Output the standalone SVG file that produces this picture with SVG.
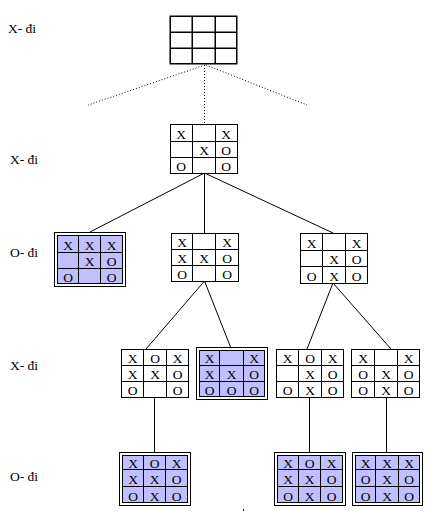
<svg xmlns="http://www.w3.org/2000/svg" width="436" height="511" viewBox="0 0 436 511">
<style>
.bg{fill:#fff}
.sh{fill:#c0c0ff;stroke:#000;stroke-width:1}
.outer{fill:#fff;stroke:#000;stroke-width:1}
.g{stroke:#000;stroke-width:1}
.t{font-family:"Liberation Serif","Times New Roman",serif;font-size:13.5px;text-anchor:middle;fill:#000}
.lbl{font-family:"Liberation Serif","Times New Roman",serif;font-size:13.5px;fill:#000}
.c{stroke:#000;stroke-width:1;fill:none}
.d{stroke:#000;stroke-width:1;fill:none;stroke-dasharray:1 2}
</style>
<rect class="bg" x="0" y="0" width="436" height="511"/>
<g id="labels">
<text class="lbl" x="8" y="33">X- đi</text>
<text class="lbl" x="10" y="164">X- đi</text>
<text class="lbl" x="10" y="257">O- đi</text>
<text class="lbl" x="10" y="370">X- đi</text>
<text class="lbl" x="10" y="481">O- đi</text>
</g>
<g id="connectors">
<line class="d" x1="205" y1="65" x2="88" y2="105"/>
<line class="d" x1="204.5" y1="65" x2="204.5" y2="123"/>
<line class="d" x1="206" y1="65" x2="307" y2="105"/>
<line class="c" x1="204.5" y1="173" x2="90" y2="232"/>
<line class="c" x1="204.5" y1="173" x2="204.5" y2="233"/>
<line class="c" x1="204.5" y1="173" x2="333" y2="233"/>
<line class="c" x1="204.5" y1="281" x2="146" y2="349"/>
<line class="c" x1="204.5" y1="281" x2="230.5" y2="347"/>
<line class="c" x1="333" y1="283" x2="307" y2="349"/>
<line class="c" x1="333" y1="283" x2="391" y2="349"/>
<line class="c" x1="154.5" y1="397" x2="154.5" y2="452"/>
<line class="c" x1="309.5" y1="397" x2="309.5" y2="452"/>
<line class="c" x1="386.5" y1="397" x2="386.5" y2="452"/>
</g>
<g id="n0">
<rect x="170.25" y="16.25" width="66.5" height="47.5" fill="#fff" stroke="#000" stroke-width="1.5"/>
<path d="M192.25,16V64M215.25,16V64M170,32.25H237M170,48.25H237" stroke="#000" stroke-width="1.5"/>
</g>
<g id="n1">
<rect class="outer" x="170.5" y="124.5" width="67" height="49"/>
<path class="g" d="M192.5,124.5V173.5M215.5,124.5V173.5M170.5,141.5H237.5M170.5,157.5H237.5"/>
<text class="t" x="181" y="138.5">X</text><text class="t" x="226" y="138.5">X</text>
<text class="t" x="204" y="155">X</text><text class="t" x="226" y="155">O</text>
<text class="t" x="181" y="171">O</text><text class="t" x="226" y="171">O</text>
</g>
<g id="n2">
<rect class="outer" x="54.5" y="232.5" width="71" height="54"/>
<rect class="sh" x="57.5" y="235.5" width="65" height="48"/>
<path class="g" d="M78.5,235.5V283.5M100.5,235.5V283.5M57.5,252.5H122.5M57.5,268.5H122.5"/>
<text class="t" x="68" y="250">X</text><text class="t" x="89.5" y="250">X</text><text class="t" x="111.5" y="250">X</text>
<text class="t" x="89.5" y="266">X</text><text class="t" x="111.5" y="266">O</text>
<text class="t" x="68" y="282">O</text><text class="t" x="111.5" y="282">O</text>
</g>
<g id="n3">
<rect class="outer" x="171.5" y="233.5" width="67" height="48"/>
<path class="g" d="M192.5,233.5V281.5M215.5,233.5V281.5M171.5,249.5H238.5M171.5,265.5H238.5"/>
<text class="t" x="182" y="247">X</text><text class="t" x="227" y="247">X</text>
<text class="t" x="182" y="263">X</text><text class="t" x="204" y="263">X</text><text class="t" x="227" y="263">O</text>
<text class="t" x="182" y="279">O</text><text class="t" x="227" y="279">O</text>
</g>
<g id="n4">
<rect class="outer" x="300.5" y="233.5" width="67" height="50"/>
<path class="g" d="M322.5,233.5V283.5M345.5,233.5V283.5M300.5,250.5H367.5M300.5,266.5H367.5"/>
<text class="t" x="311.5" y="247.5">X</text><text class="t" x="356.5" y="247.5">X</text>
<text class="t" x="334" y="264">X</text><text class="t" x="356.5" y="264">O</text>
<text class="t" x="311.5" y="281">O</text><text class="t" x="334" y="281">X</text><text class="t" x="356.5" y="281">O</text>
</g>
<g id="n5">
<rect class="outer" x="121.5" y="349.5" width="67" height="48"/>
<path class="g" d="M143.5,349.5V397.5M166.5,349.5V397.5M121.5,365.5H188.5M121.5,381.5H188.5"/>
<text class="t" x="132.5" y="363">X</text><text class="t" x="155" y="363">O</text><text class="t" x="177.5" y="363">X</text>
<text class="t" x="132.5" y="379">X</text><text class="t" x="155" y="379">X</text><text class="t" x="177.5" y="379">O</text>
<text class="t" x="132.5" y="395">O</text><text class="t" x="177.5" y="395">O</text>
</g>
<g id="n6">
<rect class="outer" x="196.5" y="347.5" width="71" height="52"/>
<rect class="sh" x="199.5" y="350.5" width="65" height="46"/>
<path class="g" d="M219.5,350.5V396.5M243.5,350.5V396.5M199.5,365.5H264.5M199.5,381.5H264.5"/>
<text class="t" x="209.5" y="363">X</text><text class="t" x="254" y="363">X</text>
<text class="t" x="209.5" y="379">X</text><text class="t" x="231.5" y="379">X</text><text class="t" x="254" y="379">O</text>
<text class="t" x="209.5" y="395">O</text><text class="t" x="231.5" y="395">O</text><text class="t" x="254" y="395">O</text>
</g>
<g id="n7">
<rect class="outer" x="276.5" y="349.5" width="67" height="48"/>
<path class="g" d="M298.5,349.5V397.5M321.5,349.5V397.5M276.5,365.5H343.5M276.5,381.5H343.5"/>
<text class="t" x="287.5" y="363">X</text><text class="t" x="310" y="363">O</text><text class="t" x="332.5" y="363">X</text>
<text class="t" x="310" y="379">X</text><text class="t" x="332.5" y="379">O</text>
<text class="t" x="287.5" y="395">O</text><text class="t" x="310" y="395">X</text><text class="t" x="332.5" y="395">O</text>
</g>
<g id="n8">
<rect class="outer" x="351.5" y="349.5" width="68" height="48"/>
<path class="g" d="M374.5,349.5V397.5M397.5,349.5V397.5M351.5,365.5H419.5M351.5,381.5H419.5"/>
<text class="t" x="363" y="363">X</text><text class="t" x="408.5" y="363">X</text>
<text class="t" x="363" y="379">O</text><text class="t" x="386" y="379">X</text><text class="t" x="408.5" y="379">O</text>
<text class="t" x="363" y="395">O</text><text class="t" x="386" y="395">X</text><text class="t" x="408.5" y="395">O</text>
</g>
<g id="n9">
<rect class="outer" x="119.5" y="452.5" width="71" height="53"/>
<rect class="sh" x="122.5" y="455.5" width="65" height="47"/>
<path class="g" d="M143.5,455.5V502.5M165.5,455.5V502.5M122.5,469.5H187.5M122.5,486.5H187.5"/>
<text class="t" x="133" y="468">X</text><text class="t" x="154.5" y="468">O</text><text class="t" x="176.5" y="468">X</text>
<text class="t" x="133" y="484">X</text><text class="t" x="154.5" y="484">X</text><text class="t" x="176.5" y="484">O</text>
<text class="t" x="133" y="500.5">O</text><text class="t" x="154.5" y="500.5">X</text><text class="t" x="176.5" y="500.5">O</text>
</g>
<g id="n10">
<rect class="outer" x="274.5" y="452.5" width="71" height="53"/>
<rect class="sh" x="277.5" y="455.5" width="65" height="47"/>
<path class="g" d="M298.5,455.5V502.5M320.5,455.5V502.5M277.5,469.5H342.5M277.5,486.5H342.5"/>
<text class="t" x="288" y="468">X</text><text class="t" x="309.5" y="468">O</text><text class="t" x="331.5" y="468">X</text>
<text class="t" x="288" y="484">X</text><text class="t" x="309.5" y="484">X</text><text class="t" x="331.5" y="484">O</text>
<text class="t" x="288" y="500.5">O</text><text class="t" x="309.5" y="500.5">X</text><text class="t" x="331.5" y="500.5">O</text>
</g>
<g id="n11">
<rect class="outer" x="352.5" y="452.5" width="70" height="53"/>
<rect class="sh" x="355.5" y="455.5" width="64" height="47"/>
<path class="g" d="M375.5,455.5V502.5M398.5,455.5V502.5M355.5,469.5H419.5M355.5,486.5H419.5"/>
<text class="t" x="365.5" y="468">X</text><text class="t" x="387" y="468">X</text><text class="t" x="409" y="468">X</text>
<text class="t" x="365.5" y="484">O</text><text class="t" x="387" y="484">X</text><text class="t" x="409" y="484">O</text>
<text class="t" x="365.5" y="500.5">O</text><text class="t" x="387" y="500.5">X</text><text class="t" x="409" y="500.5">O</text>
</g>
<rect x="243" y="509" width="1" height="2" fill="#000"/>
</svg>
